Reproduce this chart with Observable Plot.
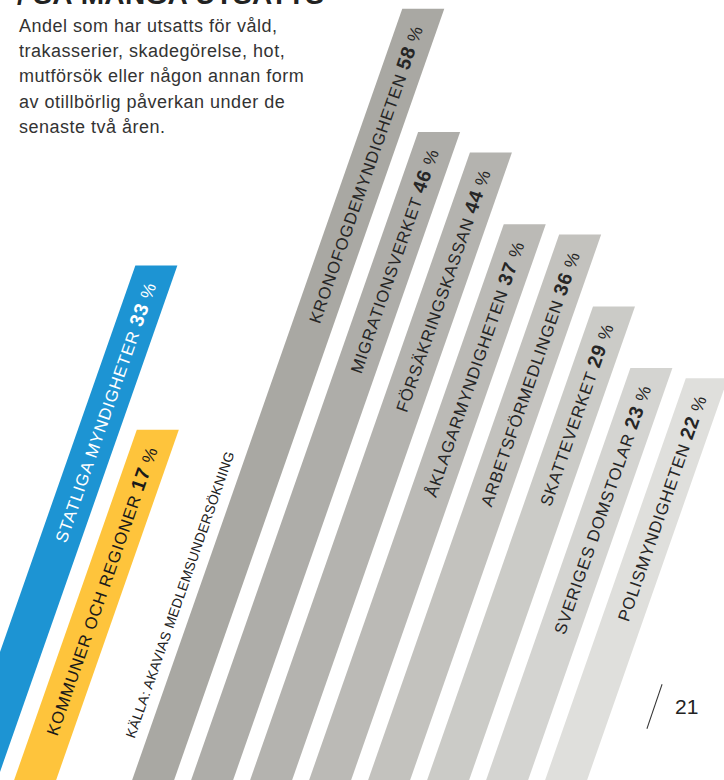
<!DOCTYPE html>
<html>
<head>
<meta charset="utf-8">
<script src="https://cdn.jsdelivr.net/npm/d3@7"></script>
<script src="https://cdn.jsdelivr.net/npm/@observablehq/plot@0.6"></script>
<style>
  html, body { margin: 0; padding: 0; background: #fff; }
  #wrap { position: relative; width: 724px; height: 780px; overflow: hidden; font-family: "Liberation Sans", Arial, sans-serif; }
  #chart { position: absolute; left: 0; top: 0; }
  #title { position: absolute; left: 17px; top: -19px; font-size: 28px; line-height: 28px; font-weight: bold; color: #222; white-space: nowrap; letter-spacing: 0.3px; }
  #sub { position: absolute; left: 19px; top: 14px; font-size: 18px; line-height: 25.2px; color: #333; letter-spacing: 0.5px; white-space: nowrap; }
  #page { position: absolute; left: 675px; top: 693px; font-size: 21px; line-height: 28px; color: #222; }
  #slash { position: absolute; left: 654px; top: 683px; width: 1px; height: 47px; background: #333; transform: rotate(18.8deg); transform-origin: 50% 50%; }
</style>
</head>
<body>
<div id="wrap">
  <div id="chart"></div>
  <div id="title">/ SÅ MÅNGA UTSATTS</div>
  <div id="sub">Andel som har utsatts för våld,<br>trakasserier, skadegörelse, hot,<br>mutförsök eller någon annan form<br>av otillbörlig påverkan under de<br>senaste två åren.</div>
  <div id="slash"></div>
  <div id="page">21</div>
</div>
<script>
// ---- data ----
const categories = [
  "STATLIGA MYNDIGHETER",
  "KOMMUNER OCH REGIONER",
  "KRONOFOGDEMYNDIGHETEN",
  "MIGRATIONSVERKET",
  "FÖRSÄKRINGSKASSAN",
  "ÅKLAGARMYNDIGHETEN",
  "ARBETSFÖRMEDLINGEN",
  "SKATTEVERKET",
  "SVERIGES DOMSTOLAR",
  "POLISMYNDIGHETEN"
];
const values = [33, 17, 58, 46, 44, 37, 36, 29, 23, 22];
const sourceLabel = "KÄLLA: AKAVIAS MEDLEMSUNDERSÖKNING";

// ---- styles ----
const barColors = ["#1d94d3", "#fec43c", "#a9a8a3", "#aeada9", "#b4b3af", "#bbbab6", "#c3c2be", "#cbcbc7", "#d4d4d1", "#dfdfdc"];
const labelColors = ["#ffffff", "#1a1a1a", "#262626", "#262626", "#262626", "#262626", "#262626", "#262626", "#262626", "#262626"];
const ANGLE = 19.3;                 // tilt of bars from vertical (deg)
const T = Math.tan(ANGLE * Math.PI / 180);
const PAD = 18;                     // label gap below bar top, along bar

const slots = [categories[0], categories[1], sourceLabel, ...categories.slice(2)];
const data = categories.map((name, i) => ({name, value: values[i], i}));

const chart = Plot.plot({
  width: 724,
  height: 780,
  margin: 0,
  style: {fontFamily: "'Liberation Sans', Arial, sans-serif", background: "transparent", overflow: "visible"},
  x: {type: "band", domain: slots, range: [228.3, 860.3], paddingInner: 0.288, paddingOuter: 0, round: false, axis: null},
  y: {domain: [0, 60], range: [604.3, -11.9], axis: null},
  color: {type: "ordinal", domain: categories, range: barColors},
  marks: [
    Plot.barY(data, {x: "name", y1: -25, y2: "value", fill: "name"}),
    Plot.text(data, {x: "name", y: "value", text: "name", textAnchor: "end", fontSize: 16.8, fill: (d) => labelColors[d.i]}),
    Plot.text([sourceLabel], {x: (d) => d, y: -12.3, text: (d) => d, textAnchor: "start", fontSize: 13.8, fill: "#222"})
  ]
});

function anchorOf(el) {
  const tr = el.getAttribute("transform");
  const m = tr && tr.match(/translate\(\s*([-\d.e]+)[\s,]+([-\d.e]+)\s*\)/);
  if (m) return [+m[1], +m[2]];
  return [+(el.getAttribute("x") || 0), +(el.getAttribute("y") || 0)];
}
// map an unskewed anchor onto the leaning bar, then rotate with it
function place(el, along, perp) {
  const [x, y] = anchorOf(el);
  el.removeAttribute("x");
  el.removeAttribute("y");
  el.setAttribute("transform", `translate(${x - T * y},${y}) rotate(${-(90 - ANGLE)}) translate(${along},${perp})`);
  el.setAttribute("dy", "0.36em");
}
const barG = chart.querySelector('g[aria-label="bar"]');
barG.setAttribute("transform", `skewX(${-ANGLE}) ${barG.getAttribute("transform") || ""}`);

const textGs = chart.querySelectorAll('g[aria-label="text"]');
// category labels
textGs[0].querySelectorAll("text").forEach((el, k) => {
  const d = data[k];
  place(el, -PAD, 0);
  el.textContent = "";
  el.setAttribute("letter-spacing", "0.85");
  const ns = "http://www.w3.org/2000/svg";
  const t1 = document.createElementNS(ns, "tspan");
  t1.textContent = d.name + " ";
  const t2 = document.createElementNS(ns, "tspan");
  t2.textContent = d.value;
  t2.setAttribute("font-weight", "bold");
  t2.setAttribute("font-size", "19.5");
  const t3 = document.createElementNS(ns, "tspan");
  t3.textContent = " %";
  t3.setAttribute("font-size", "17.5");
  el.append(t1, t2, t3);
});
// source caption
textGs[1].querySelectorAll("text").forEach((el) => {
  place(el, 0, 19);
  el.setAttribute("letter-spacing", "0.3");
});

document.getElementById("chart").append(chart);
</script>
</body>
</html>
